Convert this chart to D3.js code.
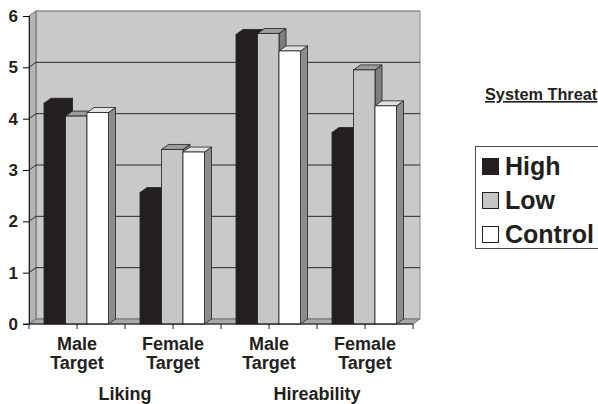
<!DOCTYPE html>
<html>
<head>
<meta charset="utf-8">
<script src="https://cdn.jsdelivr.net/npm/d3@7"></script>
<style>
  body { margin: 0; background: #fff; }
  text { font-family: "Liberation Sans", Arial, sans-serif; font-weight: bold; fill: #231f20; }
</style>
</head>
<body>
<div id="vis"></div>
<script>
// data
var groups = ["Liking", "Hireability"];
var categories = ["Male Target", "Female Target", "Male Target", "Female Target"];
var seriesNames = ["High", "Low", "Control"];
var high = [4.30, 2.56, 5.64, 3.73];
var low = [4.05, 3.40, 5.66, 4.95];
var control = [4.12, 3.35, 5.32, 4.25];
var yTicks = [0, 1, 2, 3, 4, 5, 6];

var width = 598, height = 404;
var depth = {dx: 7, dy: -5};

// face colours per series: front, top, side
var faces = {
    "High":    ["#231f20", "#231f20", "#231f20"],
    "Low":     ["#c6c6c6", "#9d9d9d", "#7e7e7e"],
    "Control": ["#ffffff", "#e2e2e2", "#8c8c8c"]
};

var svg = d3.select("#vis")
    .append("svg")
    .attr("width", width)
    .attr("height", height);

var x = d3.scaleBand().domain(d3.range(categories.length)).range([29, 413]).padding(0);
var xs = d3.scaleBand().domain(seriesNames).range([15, 79.5]).padding(0);
var y = d3.scaleLinear().domain([0, 6]).range([324, 16]);

var x0 = x.range()[0], x1 = x.range()[1], yb = y(0), yt = y(6);

function pts(arr) { return arr.map(function(p) { return p.join(","); }).join(" "); }

// back wall
svg.append("polygon")
    .attr("points", pts([[x0 + depth.dx, yt + depth.dy], [x1 + depth.dx, yt + depth.dy],
                         [x1 + depth.dx, yb + depth.dy], [x0 + depth.dx, yb + depth.dy]]))
    .attr("fill", "#c9c9c9")
    .attr("stroke", "#8a8a8a");

// left wall
svg.append("polygon")
    .attr("points", pts([[x0, yt], [x0 + depth.dx, yt + depth.dy], [x0 + depth.dx, yb + depth.dy], [x0, yb]]))
    .attr("fill", "#b4b4b4")
    .attr("stroke", "#6e6e6e");

// floor
svg.append("polygon")
    .attr("points", pts([[x0, yb], [x0 + depth.dx, yb + depth.dy], [x1 + depth.dx, yb + depth.dy], [x1, yb]]))
    .attr("fill", "#a9a9a9")
    .attr("stroke", "#6e6e6e");

// gridlines on back and left wall
yTicks.slice(1).forEach(function(t) {
    svg.append("polyline")
        .attr("points", pts([[x0, y(t)], [x0 + depth.dx, y(t) + depth.dy], [x1 + depth.dx, y(t) + depth.dy]]))
        .attr("fill", "none")
        .attr("stroke", t == 6 ? "#8a8a8a" : "#2a2a2a")
        .attr("stroke-width", 1);
});

// bars, left to right so each covers its neighbour's side face
categories.forEach(function(c, i) {
    var vals = {"High": high[i], "Low": low[i], "Control": control[i]};
    seriesNames.forEach(function(s) {
        var v = vals[s];
        var bx = x(i) + xs(s), bw = xs.bandwidth(), by = y(v);
        var g = svg.append("g");
        g.append("polygon")
            .attr("points", pts([[bx + bw, by], [bx + bw + depth.dx, by + depth.dy],
                                 [bx + bw + depth.dx, yb + depth.dy], [bx + bw, yb]]))
            .attr("fill", faces[s][2]).attr("stroke", "#231f20").attr("stroke-width", 0.8);
        g.append("polygon")
            .attr("points", pts([[bx, by], [bx + depth.dx, by + depth.dy],
                                 [bx + bw + depth.dx, by + depth.dy], [bx + bw, by]]))
            .attr("fill", faces[s][1]).attr("stroke", "#231f20").attr("stroke-width", 0.8);
        g.append("rect")
            .attr("x", bx).attr("y", by)
            .attr("width", bw).attr("height", yb - by)
            .attr("fill", faces[s][0]).attr("stroke", "#231f20").attr("stroke-width", 0.8);
    });
});

// y axis
var yAxis = svg.append("g")
    .attr("transform", "translate(" + x0 + ",0)")
    .call(d3.axisLeft(y).tickValues(yTicks).tickFormat(d3.format("d")).tickSize(6).tickPadding(5));
yAxis.select(".domain").attr("stroke", "#231f20");
yAxis.selectAll("text").style("font-size", "17px").attr("fill", "#231f20");

// category axis: ticks every half category
var xTicks = d3.range(0, categories.length * 2 + 1).map(function(k) { return x0 + k * x.bandwidth() / 2; });
svg.append("line")
    .attr("x1", x0 - 6).attr("x2", x1).attr("y1", yb).attr("y2", yb)
    .attr("stroke", "#231f20");
xTicks.forEach(function(t) {
    svg.append("line")
        .attr("x1", t).attr("x2", t).attr("y1", yb).attr("y2", yb + 5)
        .attr("stroke", "#231f20");
});

// category labels
categories.forEach(function(c, i) {
    var words = c.split(" ");
    var lbl = svg.append("text")
        .attr("x", x(i) + x.bandwidth() / 2)
        .attr("y", 350)
        .attr("text-anchor", "middle")
        .style("font-size", "18px");
    words.forEach(function(w, j) {
        lbl.append("tspan")
            .attr("x", x(i) + x.bandwidth() / 2)
            .attr("dy", j == 0 ? 0 : 19)
            .text(w);
    });
});

// group labels
groups.forEach(function(gname, k) {
    svg.append("text")
        .attr("x", x(k * 2) + x.bandwidth())
        .attr("y", 400)
        .attr("text-anchor", "middle")
        .style("font-size", "18px")
        .text(gname);
});

// legend
svg.append("text")
    .attr("x", 485)
    .attr("y", 100)
    .style("font-size", "16.3px")
    .style("text-decoration", "underline")
    .text("System Threat");

svg.append("rect")
    .attr("x", 475.5).attr("y", 146.5)
    .attr("width", 130).attr("height", 102)
    .attr("fill", "#fff").attr("stroke", "#4a4a4a");

var legend = svg.selectAll(".legend")
    .data(seriesNames)
    .enter().append("g")
    .attr("class", "legend")
    .attr("transform", function(d, i) { return "translate(0," + i * 34 + ")"; });

legend.append("rect")
    .attr("x", 482.5).attr("y", 158.5)
    .attr("width", 16).attr("height", 16)
    .attr("fill", function(d) { return faces[d][0]; })
    .attr("stroke", "#231f20");

legend.append("text")
    .attr("x", 505)
    .attr("y", 175)
    .style("font-size", "25px")
    .text(function(d) { return d; });
</script>
</body>
</html>
